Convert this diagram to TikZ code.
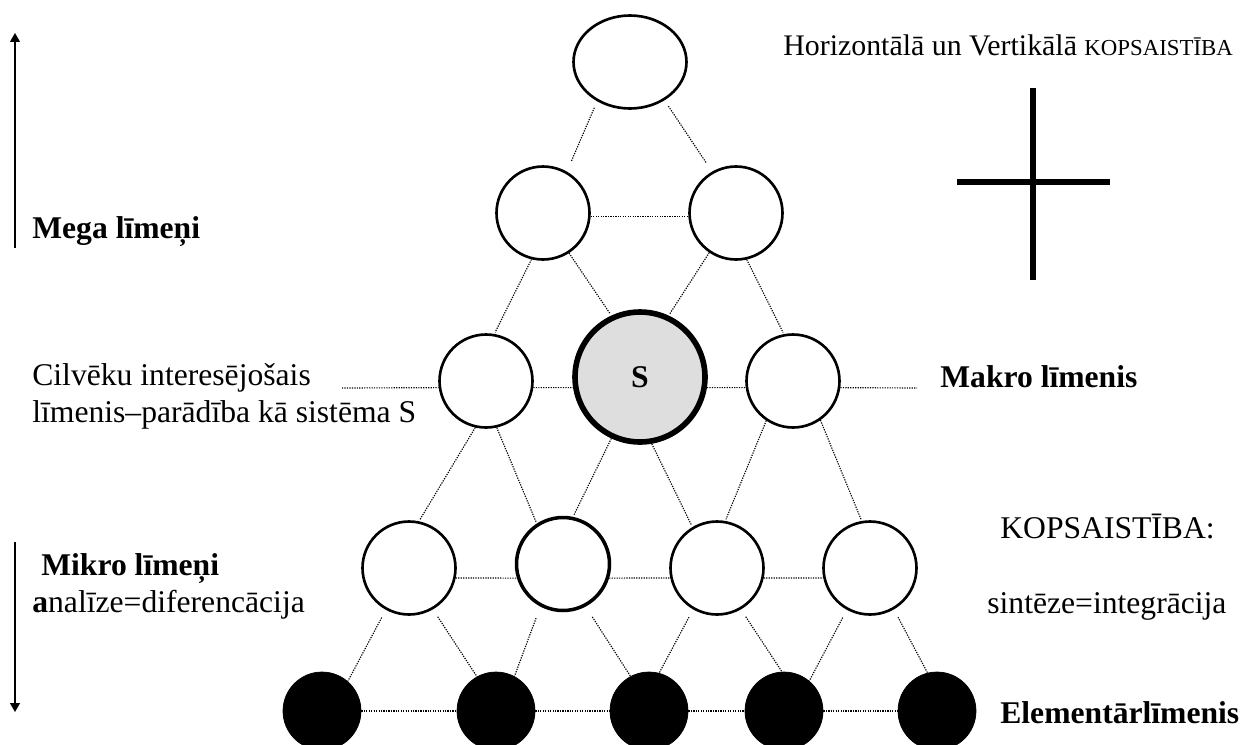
\documentclass[tikz,border=0pt]{standalone}
\usepackage{fontspec}
\setmainfont{Liberation Serif}
\usetikzlibrary{shapes.geometric,arrows.meta}
\newcommand{\lab}{\fontsize{18}{21}\selectfont}

\begin{document}
\begin{tikzpicture}[x=0.02cm,y=-0.02cm,
    ring/.style={circle,draw=black,line width=1.5pt,fill=white,inner sep=0pt,minimum size=1.86cm},
    dot/.style={circle,draw=black,fill=black,inner sep=0pt,minimum size=1.56cm},
    link/.style={black,line width=0.65pt,dash pattern=on 0.7pt off 0.7pt},
    txt/.style={anchor=base west,inner sep=0pt,font=\lab}]
                    \useasboundingbox (0,0) rectangle (1244,744);
                    % levels of the pyramid
                    \node[ellipse,draw=black,line width=1.5pt,inner sep=0pt,minimum width=2.26cm,minimum height=1.86cm] (e) at (630,62) {};
                    \node[ring] (r2l) at (543,213) {};
                    \node[ring] (r2r) at (736,213) {};
                    \node[ring] (r3l) at (486,381) {};
                    \node[circle,draw=black,line width=3.2pt,fill=black!13,inner sep=0pt,minimum size=2.6cm,font=\lab\bfseries] (s) at (640,377) {S};
                    \node[ring] (r3r) at (793,381) {};
                    \node[ring] (r41) at (409,568) {};
                    \node[ring,line width=2pt] (r42) at (563,564) {};
                    \node[ring] (r43) at (717,568) {};
                    \node[ring] (r44) at (870,568) {};
                    \foreach \n/\x in {b1/322,b2/496,b3/649,b4/784,b5/937}{
                    \node[dot] (\n) at (\x,711) {};
                    }
                    \coordinate (lcil) at (342,388);
                    \coordinate (rmak) at (917,388);
                    % horizontal links
                    \draw[link] (r2l.-4) -- (r2r.184);
                    \draw[link] (lcil) -- (r3l.188) (r3l.-8) -- (s.189) (s.-9) -- (r3r.188) (r3r.-8) -- (rmak);
                    \draw[link] (r41.-12) -- (r42.197) (r42.-17) -- (r43.192) (r43.-12) -- (r44.192);
                    \draw[link] (b1) -- (b2) (b2) -- (b3) (b3) -- (b4) (b4) -- (b5);
                    % vertical links
                    \draw[link,shorten <=4pt,shorten >=6pt] (e.230) -- (r2l.60);
                    \draw[link,shorten <=4pt,shorten >=6pt] (e.312) -- (r2r.120);
                    \foreach \a/\b/\c/\d in {r2l/256/r3l/80,r2l/303/s/115,r2r/236/s/65,r2r/283/r3r/101,
                                             r3l/257/r41/78,r3l/283/r42/123,s/245/r42/78,s/280/r43/121,
                                             r3r/236/r43/80,r3r/305/r44/100}{
                    \draw[link,shorten >=1pt] (\a.\b) -- (\c.\d);
                    }
                    \foreach \a/\b/\c/\d/\g in {r41/241/b1/49/5,r41/300/b2/119/5,r42/242/b2/62/7,r42/298/b3/118/7,
                                                r43/240/b3/75/5,r43/300/b4/93/5,r44/241/b4/50/5,r44/300/b5/104/5}{
                    \draw[link,shorten <=\g pt] (\a.\b) -- (\c.\d);
                    }
                    % arrows on the left
                    \coordinate (up0) at (15,248);
                    \coordinate (up1) at (15,33);
                    \coordinate (dn0) at (15,542);
                    \coordinate (dn1) at (15,712);
                    \draw[line width=0.9pt,-{Triangle[length=5pt,width=5.5pt]}] (up0) -- (up1);
                    \draw[line width=0.9pt,-{Triangle[length=5pt,width=5.5pt]}] (dn0) -- (dn1);
                    % cross
                    \draw[line width=2.9pt] (1033,88) -- (1033,280) (957,182) -- (1110,182);
                    % labels
                    \node[txt,font=\fontsize{17}{20}\selectfont] (title) at (783,55) {Horizontālā un Vertikālā {\fontsize{13}{15}\selectfont KOPSAISTĪBA}};
                    \node[txt,font=\lab\bfseries] (mega) at (32,238) {Mega līmeņi};
                    \node[txt] (cil1) at (32,385) {Cilvēku interesējošais};
                    \node[txt] (cil2) at (32,422) {līmenis–parādība kā sistēma S};
                    \node[txt,font=\lab\bfseries] (mikro) at (41,575) {Mikro līmeņi};
                    \node[txt] (anal) at (32,612) {\textbf{a}nalīze=diferencācija};
                    \node[txt,font=\lab\bfseries] (makro) at (940,387) {Makro līmenis};
                    \node[txt] (kop) at (1000,538) {KOPSAISTĪBA:};
                    \node[txt] (sint) at (987,613) {sintēze=integrācija};
                    \node[txt,font=\lab\bfseries] (elem) at (1000,723) {Elementārlīmenis};
                    \end{tikzpicture}
\end{document}
